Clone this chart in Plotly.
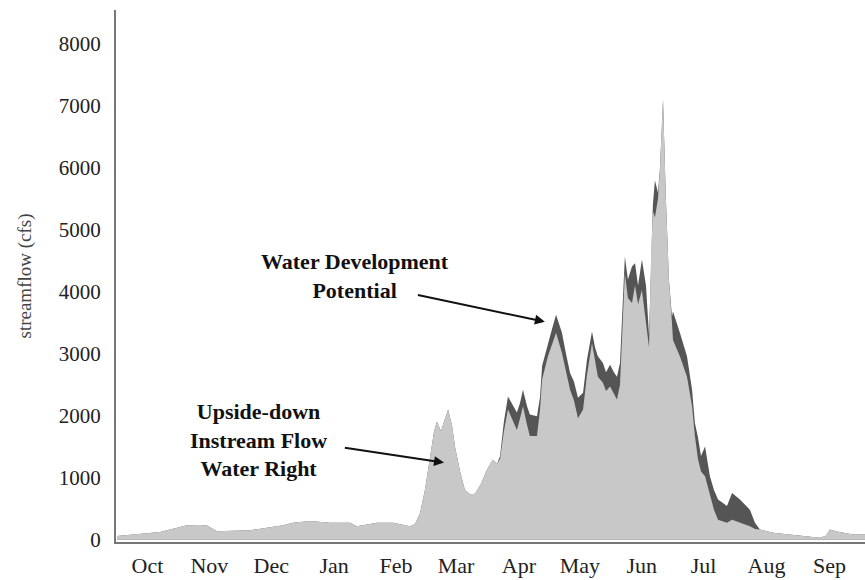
import plotly.graph_objects as go

# Day of the water year (0 = Oct 1)
days = [0, 11.3, 21.2, 29.6, 34.5, 40.9, 44.3, 49.3, 65.5, 81.8, 86.7, 95.1,
        104.9, 114.8, 118.2, 128.1, 136.0, 141.9, 144.3, 146.8, 149.3, 151.7,
        154.2, 156.2, 157.6, 159.6, 161.1, 163.1, 165.0, 166.5, 169.0, 171.4,
        173.9, 176.4, 179.3, 182.3, 185.2, 187.2, 188.7, 190.6, 192.6, 194.6,
        197.0, 198.5, 200.0, 202.0, 203.4, 206.9, 208.4, 209.4, 212.3, 214.3,
        216.3, 219.2, 221.2, 223.2, 225.1, 227.1, 229.6, 231.5, 234.0, 235.5,
        236.9, 239.4, 240.9, 242.9, 244.8, 246.3, 247.8, 249.3, 250.2, 251.7,
        253.7, 255.2, 256.7, 258.6, 260.6, 262.1, 263.1, 264.0, 265.0, 266.5,
        267.5, 269.0, 270.4, 271.9, 273.4, 273.9, 277.3, 280.8, 283.3, 284.7,
        286.2, 287.7, 289.7, 292.1, 294.1, 296.1, 298.0, 300.5, 303.0, 304.9,
        306.9, 309.4, 311.8, 314.3, 316.7, 323.2, 331.5, 338.9, 346.3, 349.3,
        351.2, 354.7, 358.6, 362.6, 368.5]

# Natural streamflow (cfs)
natural_flow = [55, 90, 120, 190, 230, 235, 225, 135, 150, 230, 270, 300,
                270, 270, 215, 270, 270, 230, 215, 250, 430, 800,
                1340, 1750, 1900, 1750, 1900, 2100, 1850, 1500, 1100, 800,
                730, 740, 900, 1130, 1290, 1220, 1350, 1900, 2310, 2200,
                2050, 2200, 2420, 2150, 2020, 1990, 2300, 2800, 3170, 3400,
                3630, 3340, 3000, 2690, 2550, 2290, 2370, 2900, 3360, 3100,
                2960, 2850, 2700, 2820, 2700, 2630, 2850, 3800, 4570, 4200,
                4410, 4460, 4100, 4520, 4100, 3300, 4600, 5400, 5800, 5600,
                6000, 7100, 5500, 4200, 3600, 3680, 3340, 2960, 2420, 1880,
                1650, 1350, 1500, 1020, 800, 645, 600, 540, 750, 700,
                645, 560, 480, 270, 160, 110, 80, 50, 30, 60,
                160, 130, 100, 80, 80]

# Flow protected by the instream flow water right (cfs)
instream_right = [55, 90, 120, 190, 230, 235, 225, 135, 150, 230, 270, 300,
                  270, 270, 215, 270, 270, 230, 215, 250, 430, 800,
                  1340, 1750, 1900, 1750, 1900, 2100, 1850, 1500, 1100, 800,
                  730, 740, 900, 1130, 1290, 1220, 1300, 1750, 2100, 1950,
                  1770, 1950, 2150, 1850, 1670, 1670, 2100, 2580, 2960, 3150,
                  3340, 3010, 2700, 2420, 2250, 1960, 2100, 2650, 3170, 2850,
                  2630, 2530, 2400, 2470, 2350, 2260, 2500, 3500, 4300, 3900,
                  3820, 4100, 3800, 4030, 3500, 3100, 4600, 5300, 5200, 5500,
                  6000, 7100, 5500, 4200, 3500, 3220, 2960, 2630, 2150, 1670,
                  1300, 1100, 1020, 700, 480, 320, 300, 270, 320, 300,
                  270, 240, 215, 170, 160, 110, 80, 50, 30, 60,
                  160, 130, 100, 80, 80]

month_labels = ["Oct", "Nov", "Dec", "Jan", "Feb", "Mar",
                "Apr", "May", "Jun", "Jul", "Aug", "Sep"]
month_centers = [15, 45.5, 76, 107, 137.5, 167, 198, 228, 258.5, 289, 320, 351]
flow_ticks = [0, 1000, 2000, 3000, 4000, 5000, 6000, 7000, 8000]

SERIF = "Liberation Serif"

fig = go.Figure()
fig.add_trace(go.Scatter(
    x=days, y=natural_flow, mode="lines", fill="tozeroy",
    line=dict(width=0, color="#555555"), fillcolor="#555555",
    hoverinfo="skip", showlegend=False))
fig.add_trace(go.Scatter(
    x=days, y=instream_right, mode="lines", fill="tozeroy",
    line=dict(width=0, color="#c8c8c8"), fillcolor="#c8c8c8",
    hoverinfo="skip", showlegend=False))

# Callout text
fig.add_annotation(x=117, y=4258, xref="x", yref="y", showarrow=False,
                   text="<b>Water Development<br>Potential</b>",
                   font=dict(family=SERIF, size=22, color="#111111"),
                   align="center")
fig.add_annotation(x=69.5, y=1613, xref="x", yref="y", showarrow=False,
                   text="<b>Upside-down<br>Instream Flow<br>Water Right</b>",
                   font=dict(family=SERIF, size=22, color="#111111"),
                   align="center")

# Callout arrows
fig.add_annotation(x=210.8, y=3516, ax=147.5, ay=3952,
                   xref="x", yref="y", axref="x", ayref="y",
                   text="", showarrow=True, arrowhead=2, arrowsize=1,
                   arrowwidth=2, arrowcolor="#111111")
fig.add_annotation(x=161.1, y=1242, ax=111.5, ay=1484,
                   xref="x", yref="y", axref="x", ayref="y",
                   text="", showarrow=True, arrowhead=2, arrowsize=1,
                   arrowwidth=2, arrowcolor="#111111")

fig.update_layout(
    width=865, height=580,
    margin=dict(l=116, r=0, t=10, b=38),
    paper_bgcolor="white", plot_bgcolor="white",
    font=dict(family=SERIF, color="#222222"),
    xaxis=dict(range=[-0.5, 368.5], showgrid=False, zeroline=False,
               tickmode="array", tickvals=month_centers, ticktext=month_labels,
               ticks="", showline=True, linecolor="#777777", linewidth=2,
               tickfont=dict(family=SERIF, size=22, color="#222222"),
               ticklabelstandoff=3),
    yaxis=dict(range=[-40, 8550], showgrid=False, zeroline=False,
               tickmode="array", tickvals=flow_ticks,
               ticks="", showline=True, linecolor="#777777", linewidth=2,
               tickfont=dict(family=SERIF, size=21, color="#222222"),
               ticklabelstandoff=9,
               title=dict(text="streamflow (cfs)", standoff=22,
                          font=dict(family=SERIF, size=19, color="#444444"))),
)

fig.write_html("out.html")
